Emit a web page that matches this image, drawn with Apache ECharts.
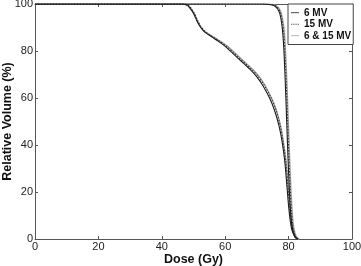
<!DOCTYPE html>
<html>
<head>
<meta charset="utf-8">
<script src="https://cdn.jsdelivr.net/npm/echarts@6/dist/echarts.min.js"></script>
<style>
  html, body { margin: 0; padding: 0; background: #fff; }
  #chart { width: 361px; height: 266px; }
</style>
</head>
<body>
<div id="chart"></div>
<script>
// dose axis ticks
const xTicks = [0, 20, 40, 60, 80, 100]
const legendNames = ['6 MV', '15 MV', '6 & 15 MV']

// OAR-like curve (the broad one)
const oarDose6 = [0, 46, 48, 49, 50, 51, 52, 53, 54, 56, 58, 60, 62, 64, 66, 68, 70, 72, 74, 75.5, 77, 78, 78.8, 79.5, 80, 80.5, 81, 81.8, 82.5, 83]
const oarVol6 = [100, 100, 99.5, 98, 96, 93, 90.5, 88.8, 87.6, 85.8, 84, 82, 79.5, 77, 74.5, 72, 69, 65, 60, 55, 48, 41, 33, 22, 14, 8, 4, 1.5, 0.3, 0]
const oarDose15 = [0, 46.3, 48.3, 49.3, 50.3, 51.3, 52.3, 53.3, 54.3, 56.4, 58.4, 60.4, 62.5, 64.5, 66.5, 68.5, 70.5, 72.5, 74.5, 76, 77.4, 78.3, 79.1, 79.8, 80.3, 80.8, 81.3, 82, 82.7, 83.2]
const oarVol15 = oarVol6
const oarDoseMix = [0, 46.2, 48.2, 49.2, 50.2, 51.2, 52.2, 53.2, 54.3, 56.5, 58.6, 60.7, 62.8, 64.8, 66.8, 68.8, 70.8, 72.7, 74.6, 76.1, 77.5, 78.4, 79.2, 79.9, 80.4, 80.9, 81.4, 82.1, 82.8, 83.3]
const oarVolMix = oarVol6

// PTV-like curve (the steep one)
const ptvDose6 = [0, 72, 74, 75.5, 76.5, 77.2, 77.8, 78.2, 78.6, 79, 79.4, 79.8, 80.2, 80.6, 81, 81.5, 82, 82.8]
const ptvVol6 = [100, 100, 99.8, 99.3, 98, 96, 92, 87, 78, 65, 50, 35, 22, 12, 6, 2.5, 0.8, 0]
const ptvDose15 = [0, 72.3, 74.3, 75.8, 76.8, 77.5, 78.1, 78.5, 78.9, 79.3, 79.7, 80.1, 80.5, 80.9, 81.3, 81.8, 82.3, 83]
const ptvVol15 = ptvVol6
const ptvDoseMix = [0, 72.5, 74.5, 76, 77, 77.7, 78.3, 78.7, 79.1, 79.5, 79.9, 80.3, 80.7, 81.1, 81.5, 82, 82.5, 83.2]
const ptvVolMix = ptvVol6

const styles = {
  '6 MV': { color: '#1a1a1a', width: 1.1, type: 'solid' },
  '15 MV': { color: '#3a3a3a', width: 1.1, type: [1.5, 1.5] },
  '6 & 15 MV': { color: '#a0a0a0', width: 1.4, type: 'solid' }
}

function pairs(xs, ys) {
  return xs.map((x, i) => [x, ys[i]])
}

function makeSeries(name, xs, ys) {
  const s = styles[name]
  return {
    name: name,
    type: 'line',
    showSymbol: false,
    symbol: 'none',
    smooth: 0.3,
    z: name === '6 & 15 MV' ? 1 : 3,
    lineStyle: { color: s.color, width: s.width, type: s.type },
    itemStyle: { color: s.color },
    data: pairs(xs, ys)
  }
}

const chart = echarts.init(document.getElementById('chart'), null, { renderer: 'canvas' })

const axisLine = { show: true, onZero: false, lineStyle: { color: '#555', width: 1 } }
const tickIn = { show: true, inside: true, length: 3, lineStyle: { color: '#555' } }
const labelStyle = { color: '#222', fontSize: 11, fontFamily: 'Liberation Sans, Arial, sans-serif' }
const solidIcon = 'path://M0,0h10v1h-10z'
const dotIcon = 'path://M0,0h1v1h-1zM2,0h1v1h-1zM4,0h1v1h-1zM6,0h1v1h-1zM8,0h1v1h-1z'

chart.setOption({
  animation: false,
  backgroundColor: '#fff',
  grid: { left: 35, right: 9, top: 4, bottom: 27, containLabel: false, outerBoundsMode: 'none' },
  legend: {
    data: [
      { name: legendNames[0], icon: solidIcon, itemStyle: { color: '#1a1a1a' } },
      { name: legendNames[1], icon: dotIcon, itemStyle: { color: '#3a3a3a' } },
      { name: legendNames[2], icon: solidIcon, itemStyle: { color: '#a0a0a0' } }
    ],
    orient: 'vertical',
    left: 288,
    top: 4,
    backgroundColor: '#fff',
    borderColor: '#444',
    borderWidth: 1,
    borderRadius: 0,
    padding: [3, 2, 3, 3],
    itemWidth: 8,
    itemHeight: 1.2,
    itemGap: 0,
    itemTextGap: 2,
    selectedMode: false,
    textStyle: { color: '#111', fontSize: 10, fontWeight: 'bold', fontFamily: 'Liberation Sans, Arial, sans-serif', lineHeight: 11.5 }
  },
  xAxis: [{
    type: 'value',
    min: 0,
    max: 100,
    interval: 20,
    position: 'bottom',
    name: 'Dose (Gy)',
    nameLocation: 'middle',
    nameGap: 14,
    nameMoveOverlap: false,
    nameTextStyle: { color: '#111', fontSize: 12.5, fontWeight: 'bold', fontFamily: 'Liberation Sans, Arial, sans-serif' },
    axisLine: axisLine,
    axisTick: tickIn,
    axisLabel: Object.assign({ margin: 2, showMaxLabel: true, showMinLabel: true }, labelStyle),
    splitLine: { show: false }
  }, {
    type: 'value',
    min: 0,
    max: 100,
    interval: 20,
    position: 'top',
    axisLine: axisLine,
    axisTick: tickIn,
    axisLabel: { show: false },
    splitLine: { show: false }
  }],
  yAxis: [{
    type: 'value',
    min: 0,
    max: 100,
    interval: 20,
    position: 'left',
    name: 'Relative Volume (%)',
    nameLocation: 'middle',
    nameGap: 21,
    nameMoveOverlap: false,
    nameTextStyle: { color: '#111', fontSize: 12.5, fontWeight: 'bold', fontFamily: 'Liberation Sans, Arial, sans-serif' },
    axisLine: axisLine,
    axisTick: tickIn,
    axisLabel: Object.assign({ margin: 2 }, labelStyle),
    splitLine: { show: false }
  }, {
    type: 'value',
    min: 0,
    max: 100,
    interval: 20,
    position: 'right',
    axisLine: axisLine,
    axisTick: tickIn,
    axisLabel: { show: false },
    splitLine: { show: false }
  }],
  series: [
    makeSeries('6 & 15 MV', oarDoseMix, oarVolMix),
    makeSeries('6 & 15 MV', ptvDoseMix, ptvVolMix),
    makeSeries('15 MV', oarDose15, oarVol15),
    makeSeries('15 MV', ptvDose15, ptvVol15),
    makeSeries('6 MV', oarDose6, oarVol6),
    makeSeries('6 MV', ptvDose6, ptvVol6)
  ]
})
</script>
</body>
</html>
